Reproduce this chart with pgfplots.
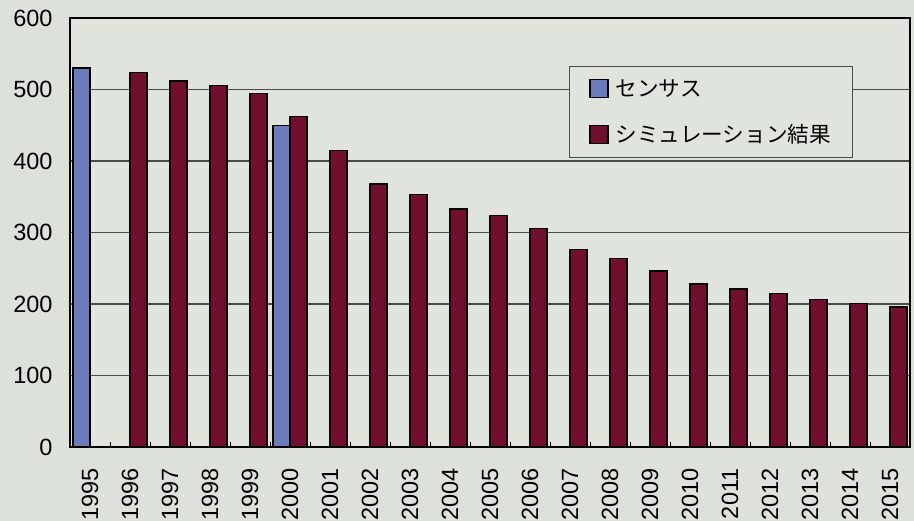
\documentclass[border=0pt]{standalone}
\usepackage{pgfplots}
\pgfplotsset{compat=1.18}
\usetikzlibrary{backgrounds}
\usepackage{fontspec}
\setmainfont{Liberation Sans}
\newfontfamily\cjk{Noto Sans CJK JP}

\definecolor{bgcol}{HTML}{DCE1DA}
\definecolor{plotcol}{HTML}{DFE4DD}
\definecolor{census}{HTML}{6A7ABA}
\definecolor{sim}{HTML}{720F2E}
\definecolor{gridcol}{HTML}{4A4D4A}

% census counts (year index 0 = 1995)
\pgfplotstableread{
x y
0 530
5 450
}\censusdata

% simulated values
\pgfplotstableread{
x y
1 524
2 512
3 506
4 494
5 462
6 415
7 368
8 353
9 333
10 324
11 306
12 276
13 264
14 246
15 228
16 221
17 215
18 206
19 201
20 196
}\simdata

\begin{document}
\begin{tikzpicture}[x=1pt,y=1pt]
\begin{axis}[
  name=main,
  scale only axis,
  width=840pt, height=429pt,
  xmin=-0.5, xmax=20.5,
  ymin=0, ymax=600,
  axis background/.style={fill=plotcol},
  axis line style={black, line width=1.1pt},
  ytick={0,100,...,600},
  ymajorgrids,
  grid style={gridcol, line width=1.2pt},
  xtick={0,...,20},
  xticklabels={1995,1996,1997,1998,1999,2000,2001,2002,2003,2004,2005,2006,2007,2008,2009,2010,2011,2012,2013,2014,2015},
  x tick label style={rotate=90, anchor=east, font=\fontsize{23.5}{27}\selectfont},
  y tick label style={font=\fontsize{23.5}{27}\selectfont},
  xticklabel shift=18pt,
  yticklabel shift=14pt,
  /pgf/number format/assume math mode=true,
  major tick length=0pt,
  minor xtick={0.5,1.5,...,19.5},
  minor tick length=5pt,
  tick style={black, line width=0.8pt},
  xtick pos=bottom, ytick pos=left,
  tick align=inside,
  legend style={
    at={(rel axis cs:0.594,0.888)}, anchor=north west,
    draw=gridcol, line width=0.8pt, fill=plotcol,
    font=\cjk\fontsize{21.6}{26}\selectfont,
    inner xsep=20pt, inner ysep=11pt,
    row sep=23pt,
    /tikz/every even column/.append style={column sep=0pt},
    /tikz/every odd column/.append style={column sep=5pt},
  },
  legend cell align=left,
  legend image code/.code={
    \draw[#1, draw=black, line width=1.3pt] (0pt,-9pt) rectangle (18pt,9pt);
  },
]
\addplot[ybar, bar width=17pt, bar shift=-8.5pt, fill=census, draw=black, line width=1.4pt]
  table[x=x,y=y] {\censusdata};
\addlegendentry{センサス}
\addplot[ybar, bar width=17pt, bar shift=8.5pt, fill=sim, draw=black, line width=1.4pt]
  table[x=x,y=y] {\simdata};
\addlegendentry{シミュレーション結果}
\end{axis}
\pgfresetboundingbox
\useasboundingbox (main.south west) ++(-70pt,-74pt) coordinate (bbsw) rectangle ++(914pt,521pt) coordinate (bbne);
\begin{scope}[on background layer]
  \fill[bgcol] (bbsw) rectangle (bbne);
\end{scope}
\end{tikzpicture}
\end{document}
